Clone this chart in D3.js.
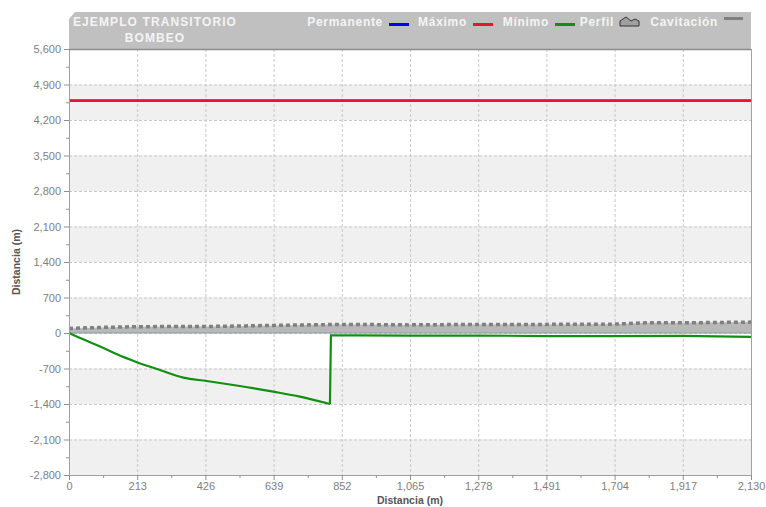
<!DOCTYPE html>
<html><head><meta charset="utf-8">
<script src="https://cdn.jsdelivr.net/npm/d3@7"></script>
<style>
body{margin:0;background:#fff;}
text{font-family:"Liberation Sans",Arial,sans-serif;}
</style></head>
<body><svg id="c" width="766" height="507"></svg>
<script>
const title = ["EJEMPLO TRANSITORIO", "BOMBEO"];
const legendNames = ["Permanente", "Máximo", "Mínimo", "Perfil", "Cavitación"];
const xTicks = [0, 213, 426, 639, 852, 1065, 1278, 1491, 1704, 1917, 2130];
const yTicks = [-2800, -2100, -1400, -700, 0, 700, 1400, 2100, 2800, 3500, 4200, 4900, 5600];

const permDist = [0, 2130];
const permHead = [4580, 4580];
const maxDist = [0, 2130];
const maxHead = [4580, 4580];
const minDist = [0, 50, 97, 150, 214, 284, 357, 430, 513, 596, 638, 721, 815, 818, 900, 1065, 1278, 1491, 1704, 1917, 2130];
const minHead = [0, -140, -264, -420, -580, -730, -880, -946, -1025, -1110, -1157, -1255, -1400, -45, -48, -52, -50, -60, -62, -55, -75];
const profDist = [0, 100, 213, 426, 550, 639, 852, 1065, 1278, 1491, 1704, 1800, 1917, 2130];
const profElev = [90, 110, 125, 128, 140, 150, 170, 160, 170, 170, 175, 200, 200, 215];

const svg = d3.select("#c");
const L = 69, R = 751, T = 49, B = 475;
const x = d3.scaleLinear().domain([0, 2130]).range([L, R]);
const y = d3.scaleLinear().domain([-2800, 5600]).range([B, T]);
const fmt = v => d3.format(",")(v).replace("\u2212", "-");

// alternating bands
for (let i = 0; i < yTicks.length - 1; i++) {
  const lo = yTicks[i], hi = yTicks[i + 1];
  if (i % 2 === 0) {
    svg.append("rect").attr("x", L).attr("y", y(hi)).attr("width", R - L)
      .attr("height", y(lo) - y(hi)).attr("fill", "#f0f0f0");
  }
}
// grid
svg.append("g").selectAll("line").data(yTicks).join("line")
  .attr("x1", L).attr("x2", R).attr("y1", d => y(d) + 0.5).attr("y2", d => y(d) + 0.5)
  .attr("stroke", "#c8c8c8").attr("stroke-dasharray", "3,2");
svg.append("g").selectAll("line").data(xTicks.slice(1, -1)).join("line")
  .attr("x1", d => x(d) + 0.5).attr("x2", d => x(d) + 0.5).attr("y1", T).attr("y2", B)
  .attr("stroke", "#c8c8c8").attr("stroke-dasharray", "3,2");

// profile area
const prof = profDist.map((d, i) => [d, profElev[i]]);
svg.append("path").datum(prof)
  .attr("d", d3.area().x(d => x(d[0])).y0(y(0)).y1(d => y(d[1])))
  .attr("fill", "#b8b8b8");
svg.append("path").datum(prof)
  .attr("d", d3.line().x(d => x(d[0])).y(d => y(d[1])))
  .attr("fill", "none").attr("stroke", "#808080").attr("stroke-width", 3.5).attr("stroke-dasharray", "4,3");
svg.append("line").attr("x1", L).attr("x2", R).attr("y1", y(0)).attr("y2", y(0))
  .attr("stroke", "#8aa0a8").attr("stroke-width", 1);

const line = d3.line().x(d => x(d[0])).y(d => y(d[1]));
svg.append("path").datum(permDist.map((d, i) => [d, permHead[i]])).attr("d", line)
  .attr("fill", "none").attr("stroke", "#0000ff").attr("stroke-width", 2.5);
svg.append("path").datum(maxDist.map((d, i) => [d, maxHead[i]])).attr("d", line)
  .attr("fill", "none").attr("stroke", "#ee1133").attr("stroke-width", 2.5);
const minPts = minDist.map((d, i) => [d, minHead[i]]);
const jump = d3.minIndex(minHead);
svg.append("path").datum(minPts.slice(0, jump + 1))
  .attr("d", d3.line().x(d => x(d[0])).y(d => y(d[1])).curve(d3.curveMonotoneX))
  .attr("fill", "none").attr("stroke", "#109010").attr("stroke-width", 2.2);
svg.append("path").datum(minPts.slice(jump))
  .attr("d", line)
  .attr("fill", "none").attr("stroke", "#109010").attr("stroke-width", 2.2).attr("stroke-linejoin", "miter");

// axes
svg.append("g").attr("transform", `translate(${L},0)`)
  .call(d3.axisLeft(y).tickValues(yTicks).tickFormat(fmt).tickSize(5).tickPadding(3));
svg.append("g").attr("transform", `translate(0,${B})`)
  .call(d3.axisBottom(x).tickValues(xTicks).tickFormat(fmt).tickSize(5).tickPadding(2));
// minor ticks
const yMinor = yTicks.slice(0, -1).map((d, i) => (d + yTicks[i + 1]) / 2);
const xMinor = xTicks.slice(0, -1).map((d, i) => (d + xTicks[i + 1]) / 2);
svg.append("g").attr("transform", `translate(${L},0)`)
  .call(d3.axisLeft(y).tickValues(yMinor).tickFormat("").tickSize(3)).select(".domain").remove();
svg.append("g").attr("transform", `translate(0,${B})`)
  .call(d3.axisBottom(x).tickValues(xMinor).tickFormat("").tickSize(3)).select(".domain").remove();
svg.selectAll(".tick line").attr("stroke", "#909090");
svg.selectAll(".domain").attr("stroke", "#a0a0a0");
svg.selectAll(".tick text").attr("fill", "#808080").style("font-size", "11px");
svg.append("line").attr("x1", R + 0.5).attr("x2", R + 0.5).attr("y1", T).attr("y2", B)
  .attr("stroke", "#a0a0a0");

// header
svg.append("path").attr("d", `M${L},${T} L${L},19 L${L + 6},12 L${R},12 L${R},${T} Z`)
  .attr("fill", "#c0c0c0");
svg.append("line").attr("x1", L).attr("x2", R).attr("y1", T + 0.5).attr("y2", T + 0.5)
  .attr("stroke", "#8c8c8c").attr("stroke-width", 1.5);
const tg = svg.append("g").attr("fill", "#f4f4f4").style("font-weight", "bold")
  .style("font-size", "12px").style("letter-spacing", "0.7px");
tg.append("text").attr("x", 155).attr("y", 26).attr("text-anchor", "middle")
  .style("letter-spacing", "1.1px").text(title[0]);
tg.append("text").attr("x", 155).attr("y", 42).attr("text-anchor", "middle")
  .style("letter-spacing", "1.1px").text(title[1]);

const legX = [383, 467, 549, 614, 718];
const legColors = ["#0000ff", "#ee1133", "#109010", null, "#808080"];
legendNames.forEach((n, i) => {
  tg.append("text").attr("x", legX[i]).attr("y", 26).attr("text-anchor", "end").text(n);
  if (i < 3) {
    svg.append("rect").attr("x", legX[i] + 6).attr("y", 23).attr("width", 20).attr("height", 3).attr("fill", legColors[i]);
  } else if (i === 3) {
    const a = legX[i] + 6;
    svg.append("path").attr("d", `M${a},26 L${a},21 L${a + 6},17 L${a + 11},21 L${a + 15},19 L${a + 19},21 L${a + 19},26 Z`)
      .attr("fill", "#a0a0a0").attr("stroke", "#333").attr("stroke-width", 1);
  } else {
    svg.append("rect").attr("x", legX[i] + 6).attr("y", 17).attr("width", 19).attr("height", 3).attr("fill", legColors[i]);
  }
});

// axis titles
svg.append("text").attr("x", 410).attr("y", 504).attr("text-anchor", "middle")
  .style("font-weight", "bold").style("font-size", "10.5px").attr("fill", "#555").text("Distancia (m)");
svg.append("text").attr("transform", `translate(20,${(T + B) / 2}) rotate(-90)`).attr("text-anchor", "middle")
  .style("font-weight", "bold").style("font-size", "10.5px").attr("fill", "#555").text("Distancia (m)");
</script></body></html>
